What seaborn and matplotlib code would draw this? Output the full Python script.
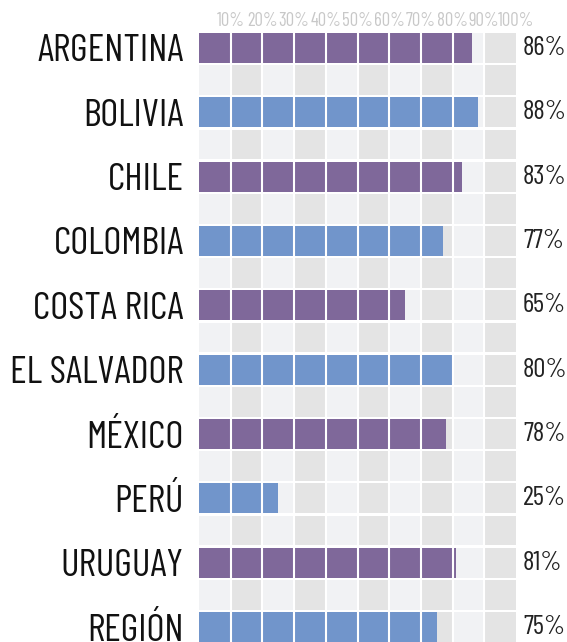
import matplotlib
matplotlib.use("Agg")
import matplotlib.pyplot as plt
from matplotlib.patches import Rectangle
import seaborn as sns

countries = ["ARGENTINA", "BOLIVIA", "CHILE", "COLOMBIA", "COSTA RICA",
             "EL SALVADOR", "MÉXICO", "PERÚ", "URUGUAY", "REGIÓN"]
values = [86, 88, 83, 77, 65, 80, 78, 25, 81, 75]
tick_values = [10, 20, 30, 40, 50, 60, 70, 80, 90, 100]
tick_labels = ["10%", "20%", "30%", "40%", "50%", "60%", "70%", "80%", "90%", "100%"]

PURPLE = "#7f689a"
BLUE = "#7195cb"
bar_colors = [PURPLE if i % 2 == 0 else BLUE for i in range(len(countries))]

sns.set_style("white")
plt.rcParams["font.family"] = ["Barlow Condensed", "DejaVu Sans"]

fig = plt.figure(figsize=(5.67, 6.42), dpi=100)
ax = fig.add_axes([199 / 567, 0, 317 / 567, 609 / 642])

cell_h = 0.466
# background grid of cells: bar rows and the spacer rows between them
n_rows = 2 * len(countries) - 1
for k in range(n_rows):
    yc = k * 0.5
    for j in range(10):
        ax.add_patch(Rectangle((j * 10, yc - cell_h / 2), 10, cell_h,
                               facecolor="#f1f2f4" if j % 2 == 0 else "#e4e4e4",
                               edgecolor="none", zorder=0))

sns.barplot(x=values, y=countries, hue=countries, palette=bar_colors,
            orient="h", width=cell_h, saturation=1, linewidth=0,
            legend=False, ax=ax, zorder=2)

# white separators between the 10% columns
for t in tick_values[:-1]:
    ax.axvline(t, color="white", lw=1.5, zorder=3)

for i, v in enumerate(values):
    ax.text(102.2, i, f"{v}%", ha="left", va="center", fontsize=19.5,
            color="#222222", zorder=4)

ax.set_xlim(0, 100)
ax.set_ylim(len(countries) - 1 + 0.233, -0.233)
ax.xaxis.set_ticks_position("top")
ax.set_xticks(tick_values)
ax.set_xticklabels(tick_labels)
ax.tick_params(axis="x", length=0, pad=2, labelsize=13.5, labelcolor="#c8c8c8")
ax.tick_params(axis="y", length=0, pad=11, labelsize=28, labelcolor="#111111")
ax.set_xlabel("")
ax.set_ylabel("")
for s in ax.spines.values():
    s.set_visible(False)

fig.savefig("out.png", dpi=100)
